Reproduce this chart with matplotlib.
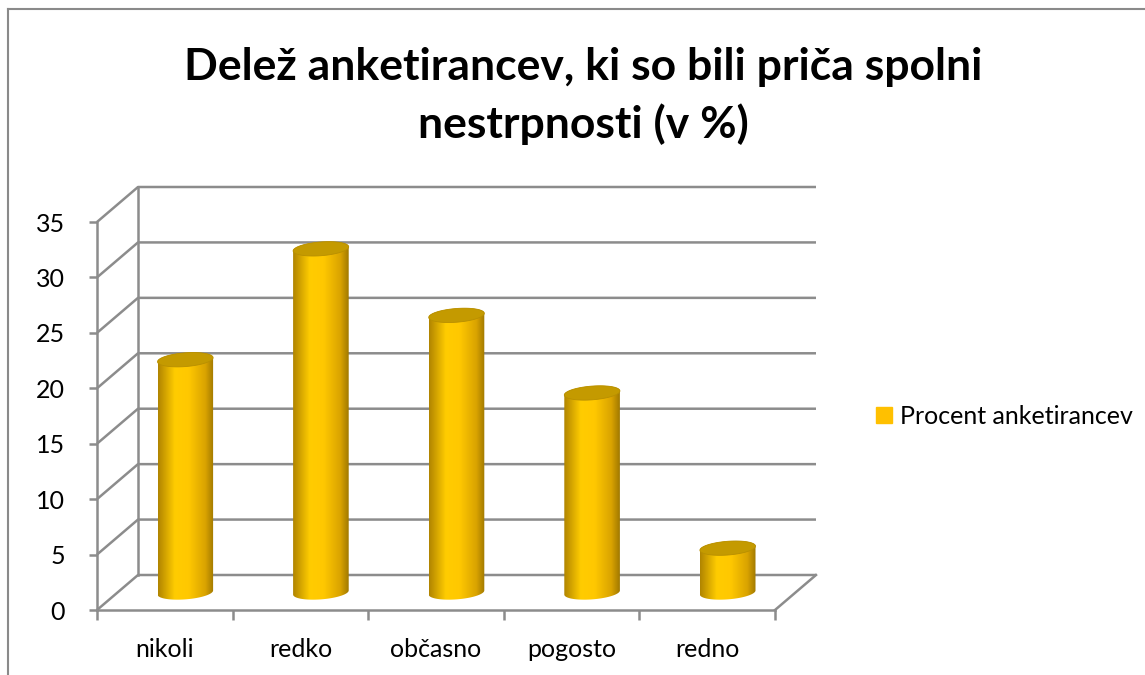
import numpy as np
import matplotlib
matplotlib.use("Agg")
import matplotlib.pyplot as plt
from matplotlib.colors import LinearSegmentedColormap
from matplotlib.patches import Polygon
from matplotlib.lines import Line2D

# ========= data =========
categories = ["nikoli", "redko", "občasno", "pogosto", "redno"]
values = [21, 31, 25, 18, 4]
y_ticks = [0, 5, 10, 15, 20, 25, 30, 35]
series_name = "Procent anketirancev"
title = "Delež anketirancev, ki so bili priča spolni\nnestrpnosti (v %)"

# ========= style =========
plt.rcParams["font.family"] = ["Lato", "DejaVu Sans"]
GRID = "#8c8c8c"
CAP = "#c49a00"
body_cmap = LinearSegmentedColormap.from_list(
    "cyl", [(0.0, "#b08400"), (0.3, "#ffcc00"), (0.55, "#ffc800"), (0.85, "#d9a300"), (1.0, "#a07800")]
)

W, H = 1145, 675
fig = plt.figure(figsize=(W / 100, H / 100), dpi=100)
fig.patch.set_facecolor("white")

# plot area of the front plane (pixels -> figure fraction)
x0, x1, y0, y1 = 97, 775, 610, 222
ax = fig.add_axes([x0 / W, (H - y0) / H, (x1 - x0) / W, (y0 - y1) / H])
ax.set_xlim(0, len(categories))
ax.set_ylim(0, 35)
ax.patch.set_alpha(0)

# depth offset in data units
dx = 41 / ((x1 - x0) / len(categories))
dy = 35 / ((y0 - y1) / 35)
n = len(categories)

# back wall + diagonal gridlines
for v in y_ticks:
    ax.plot([0, dx, n + dx], [v, v + dy, v + dy], color=GRID, lw=1.8,
            clip_on=False, zorder=1, solid_capstyle="butt")
ax.plot([dx, dx], [dy, 35 + dy], color=GRID, lw=1.8, clip_on=False, zorder=1)
# floor right edge
ax.plot([n, n + dx], [0, dy], color=GRID, lw=1.8, clip_on=False, zorder=1)


def ellipse_pts(cx, cy, a, b, shear, t):
    xs = cx + a * np.cos(t)
    ys = cy + b * np.sin(t) + shear * (a * np.cos(t))
    return np.column_stack([xs, ys])


# cylinders
a = 0.205
b = 0.62
shear = 0.9
for i, v in enumerate(values):
    cx = i + 0.5 + dx / 2
    base = dy / 2
    top = v + dy / 2
    lower = ellipse_pts(cx, base, a, b, shear, np.linspace(np.pi, 2 * np.pi, 60))
    upper = ellipse_pts(cx, top, a, b, shear, np.linspace(0, np.pi, 60))
    body = Polygon(np.vstack([lower, upper]), closed=True, facecolor="none",
                   edgecolor="none", transform=ax.transData)
    ax.add_patch(body)
    grad = np.linspace(0, 1, 256).reshape(1, -1)
    im = ax.imshow(grad, cmap=body_cmap, aspect="auto",
                   extent=(cx - a, cx + a, base - 2 * b, top + 2 * b),
                   zorder=3, clip_on=True)
    im.set_clip_path(body)
    cap = Polygon(ellipse_pts(cx, top, a, b, shear, np.linspace(0, 2 * np.pi, 80)),
                  closed=True, facecolor=CAP, edgecolor="#b88f00", lw=0.6, zorder=4)
    ax.add_patch(cap)

ax.set_xlim(0, n)
ax.set_ylim(0, 35)

# axes, ticks
for s in ["top", "right"]:
    ax.spines[s].set_visible(False)
for s in ["left", "bottom"]:
    ax.spines[s].set_color(GRID)
    ax.spines[s].set_linewidth(1.8)
ax.set_yticks(y_ticks)
ax.set_yticklabels([str(t) for t in y_ticks], fontsize=18)
ax.set_xticks(np.arange(n + 1))
ax.set_xticklabels([])
ax.set_xticks(np.arange(n) + 0.5, minor=True)
ax.set_xticklabels(categories, minor=True, fontsize=18)
ax.tick_params(axis="y", length=6, width=1.8, color=GRID, pad=17)
ax.tick_params(axis="x", which="major", length=7, width=1.8, color=GRID)
ax.tick_params(axis="x", which="minor", length=0, pad=20)

# legend
handle = Line2D([], [], marker="s", linestyle="none", markersize=12,
                markerfacecolor="#ffc000", markeredgecolor="#ffc000")
fig.legend([handle], [series_name], loc="center left",
           bbox_to_anchor=(875 / W, 1 - 416 / H), frameon=False,
           fontsize=18, handlelength=0.7, handletextpad=0.3,
           borderaxespad=0, borderpad=0)

# title
fig.text(583 / W, 1 - 96 / H, title, ha="center", va="center",
         fontsize=32, fontweight="bold", linespacing=1.5)

# chart border
fig.add_artist(Line2D([8 / W, 1], [1 - 9 / H, 1 - 9 / H], color="#8a8a8a", lw=1.5))
fig.add_artist(Line2D([8 / W, 8 / W], [0, 1 - 9 / H], color="#8a8a8a", lw=1.5))

fig.savefig("out.png", dpi=100)
